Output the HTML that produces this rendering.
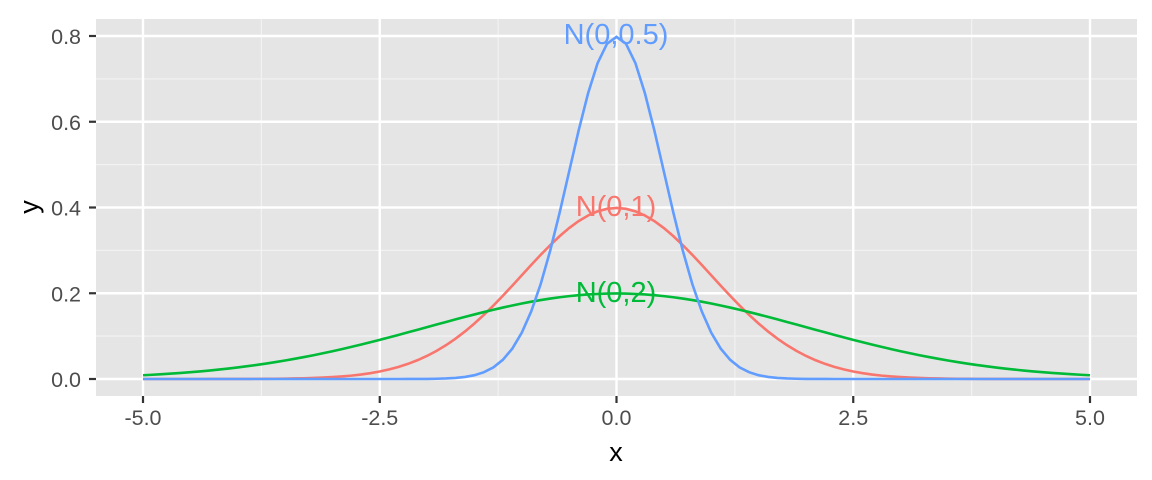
<!DOCTYPE html>
<html><head><meta charset="utf-8"><style>
html,body{margin:0;padding:0;background:#fff;}
svg{display:block;font-family:"Liberation Sans",Arial,sans-serif;}
</style></head><body>
<svg id="s" width="1152" height="480" xmlns="http://www.w3.org/2000/svg">
<rect x="0" y="0" width="1152" height="480" fill="#fff"/>
<rect x="96" y="19" width="1041" height="377" fill="#e5e5e5"/>
<g id="grid"></g>
<g id="curves" fill="none" stroke-width="2.6"></g>
<g font-size="29" text-anchor="middle">
<text x="616" y="44" fill="#619CFF">N(0,0.5)</text>
<text x="616" y="216" fill="#F8766D">N(0,1)</text>
<text x="616" y="302" fill="#00BA38">N(0,2)</text>
</g>
<g id="ticks" font-size="21.5" fill="#4d4d4d"></g>
<text x="616" y="461" font-size="27" text-anchor="middle" fill="#000">x</text>
<text transform="translate(38,207) rotate(-90)" font-size="27" text-anchor="middle" fill="#000">y</text>
</svg>
<script>
var NS="http://www.w3.org/2000/svg";
function X(x){return 616.5+x*94.7;}
function Y(y){return 379-y*428.75;}
function el(p,t,a,txt){var e=document.createElementNS(NS,t);for(var k in a)e.setAttribute(k,a[k]);if(txt!=null)e.textContent=txt;document.getElementById(p).appendChild(e);}
[0.1,0.3,0.5,0.7].forEach(function(v){el("grid","line",{x1:96,x2:1137,y1:Y(v),y2:Y(v),stroke:"#f2f2f2","stroke-width":1.2});});
[-3.75,-1.25,1.25,3.75].forEach(function(v){el("grid","line",{x1:X(v),x2:X(v),y1:19,y2:396,stroke:"#f2f2f2","stroke-width":1.2});});
[0,0.2,0.4,0.6,0.8].forEach(function(v){el("grid","line",{x1:96,x2:1137,y1:Y(v),y2:Y(v),stroke:"#fff","stroke-width":2.4});
el("ticks","line",{x1:89,x2:96,y1:Y(v),y2:Y(v),stroke:"#333","stroke-width":2.2});
el("ticks","text",{x:81,y:Y(v)+8,"text-anchor":"end"},v.toFixed(1));});
[-5,-2.5,0,2.5,5].forEach(function(v){el("grid","line",{x1:X(v),x2:X(v),y1:19,y2:396,stroke:"#fff","stroke-width":2.4});
el("ticks","line",{x1:X(v),x2:X(v),y1:396,y2:403,stroke:"#333","stroke-width":2.2});
el("ticks","text",{x:X(v),y:425,"text-anchor":"middle"},v.toFixed(1));});
function curve(sd,col){var p=[];for(var i=0;i<=100;i++){var x=-5+i*0.1;var y=Math.exp(-x*x/(2*sd*sd))/(sd*Math.sqrt(2*Math.PI));p.push(X(x).toFixed(2)+","+Y(y).toFixed(2));}
el("curves","polyline",{points:p.join(" "),stroke:col});}
curve(1,"#F8766D");curve(2,"#00BA38");curve(0.5,"#619CFF");
</script>
</body></html>
